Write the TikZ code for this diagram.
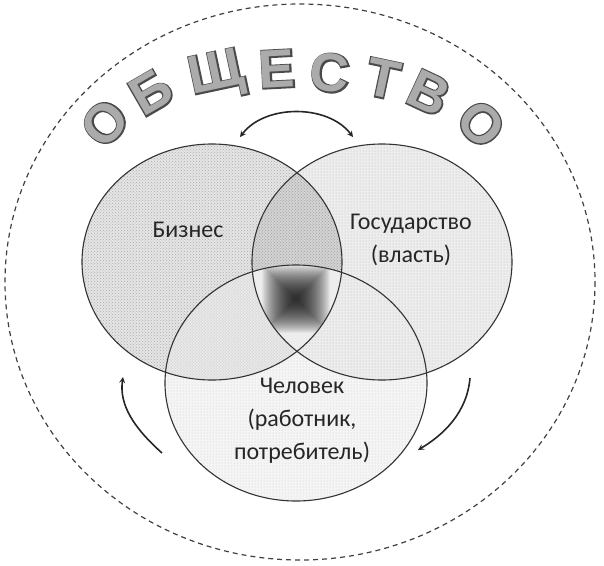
\documentclass[tikz,border=0pt]{standalone}
\usepackage{fontspec}
\setmainfont{Carlito}
\newfontfamily\titlefill{Liberation Sans Bold}
\newfontfamily\titleline{Liberation Sans Bold}[FakeBold=5]
\usetikzlibrary{patterns}
\definecolor{lettergray}{HTML}{ABABAB}
\definecolor{letterline}{HTML}{4A4A4A}
\definecolor{setline}{HTML}{333333}
\tikzset{
  setedge/.style={draw=setline,line width=1.1pt},
  setlabel/.style={font=\fontsize{24}{33}\selectfont,text=black!85,align=center},
  cyclearrow/.style={->,line width=1.6pt,draw=black!85},
}
\begin{document}
\begin{tikzpicture}[x=1pt,y=-1pt,>=stealth]
    \useasboundingbox (0,0) rectangle (604,565);
    % centres of the three sets
    \coordinate (biz) at (212,262);
    \coordinate (gos) at (382,262);
    \coordinate (man) at (296,383);
    % society
    \draw[dashed,dash pattern=on 5pt off 4pt,line width=1.2pt,draw=black!75] (300,282) ellipse [x radius=295, y radius=278];
    % fills
    \fill[gray!20] (biz) ellipse [x radius=130, y radius=118];
    \fill[pattern=crosshatch dots,pattern color=gray!65] (biz) ellipse [x radius=130, y radius=118];
    \fill[black,opacity=0.07] (gos) ellipse [x radius=130, y radius=118];
    \fill[pattern=dots,pattern color=gray!55] (gos) ellipse [x radius=130, y radius=118];
    \fill[white,opacity=0.55] (man) ellipse [x radius=131, y radius=118];
    \fill[black,opacity=0.04] (man) ellipse [x radius=131, y radius=118];
    \fill[pattern=dots,pattern color=gray!42] (man) ellipse [x radius=131, y radius=118];
    % common part
    \begin{scope}
      \clip (biz) ellipse [x radius=130, y radius=118];
      \clip (gos) ellipse [x radius=130, y radius=118];
      \clip (man) ellipse [x radius=131, y radius=118];
      \fill[white,opacity=0.5] (150,150) rectangle (450,450);
      \foreach \s in {34,33,...,3}
        \fill[black,opacity=0.042] (296-\s,299-\s) rectangle (296+\s,299+\s);
    \end{scope}
    % outlines
    \draw[setedge] (biz) ellipse [x radius=130, y radius=118];
    \draw[setedge] (gos) ellipse [x radius=130, y radius=118];
    \draw[setedge] (man) ellipse [x radius=131, y radius=118];
    % labels
    \node[setlabel] (biztext) at (188,230) {Бизнес};
    \node[setlabel] (gostext) at (411,240) {Государство\\(власть)};
    \node[setlabel] (mantext) at (302,421) {Человек\\(работник,\\потребитель)};
    % title
    \foreach \ch/\x/\y/\r [count=\i] in {О/105/123/48, Б/151/92/30, Щ/217/76/12, Е/277/69/3,
        С/330/73/-5, Т/383/79/-12, В/429/93/-25, О/481/124/-45}
    {
      \node[rotate=\r,inner sep=0pt,text=letterline,font=\titleline\fontsize{54}{54}\selectfont] (title\i) at (\x,\y) {\ch};
      \node[rotate=\r,inner sep=0pt,text=lettergray,font=\titlefill\fontsize{54}{54}\selectfont] at (title\i.center) {\ch};
    }
    % arrows
    \coordinate (topl) at (240,137);
    \coordinate (topr) at (353,137);
    \coordinate (lefts) at (162,453);
    \coordinate (leftt) at (123,377);
    \coordinate (rights) at (470,378);
    \coordinate (rightt) at (418,450);
    \draw[cyclearrow,<->] (topl) .. controls +(25,-33) and +(-25,-33) .. (topr);
    \draw[cyclearrow] (lefts) .. controls +(-28,-25) and +(-4,28) .. (leftt);
    \draw[cyclearrow] (rights) .. controls +(-3,35) and +(25,-15) .. (rightt);
\end{tikzpicture}
\end{document}
